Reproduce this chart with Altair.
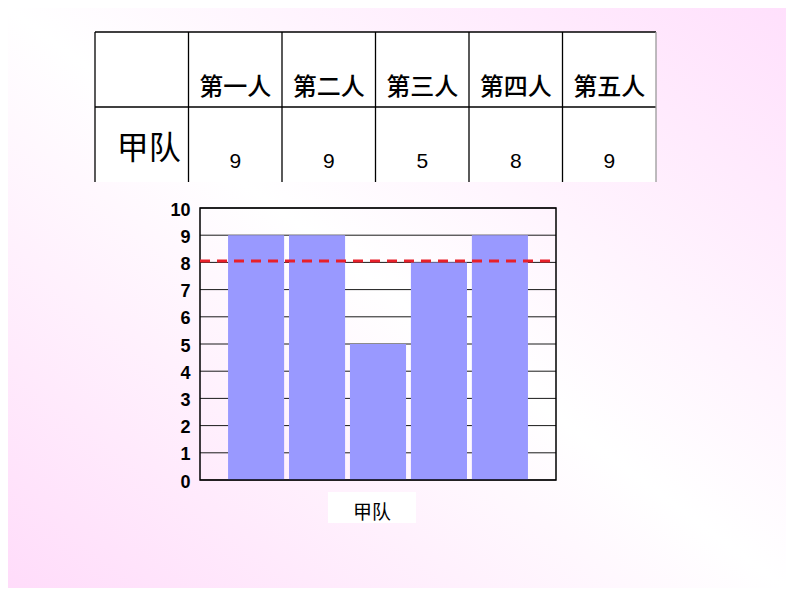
import altair as alt
import pandas as pd

# ---- data ----
persons = ["第一人", "第二人", "第三人", "第四人", "第五人"]
scores = [9, 9, 5, 8, 9]
team = "甲队"
y_ticks = [0, 1, 2, 3, 4, 5, 6, 7, 8, 9, 10]
table_rows = [0, 1]  # ruled rows of the table (top edge, header/data divider)

W, H = 778, 580
ncol = len(persons) + 1
nrow = 2

one = pd.DataFrame({"k": [0]})
bar_df = pd.DataFrame({"person": persons, "score": scores, "col": list(range(1, ncol))})
col_df = pd.DataFrame({"col": list(range(0, ncol + 1))})
row_df = pd.DataFrame({"row": table_rows})
tick_df = pd.DataFrame({"tick": y_ticks})

CJK = "Noto Sans CJK SC"
LAT = "Liberation Sans"

# ---- scales ----
tx = alt.Scale(domain=[0, ncol], range=[87, 648], nice=False, zero=False)
ty = alt.Scale(domain=[0, nrow], range=[24, 174], nice=False, zero=False)
fx = alt.Scale(domain=[0, 1], range=[192, 548], nice=False, zero=False)
fy = alt.Scale(domain=[y_ticks[0], y_ticks[-1]], range=[472, 200], nice=False, zero=True)
bx = alt.Scale(domain=persons, range=[192, 548], paddingInner=0.08, paddingOuter=0.46)


def TX(v):
    return alt.XDatum(v, type="quantitative", scale=tx, axis=None)


def TY(v):
    return alt.YDatum(v, type="quantitative", scale=ty, axis=None)


def FX(v):
    return alt.XDatum(v, type="quantitative", scale=fx, axis=None)


def FY(v):
    return alt.YDatum(v, type="quantitative", scale=fy, axis=None)


# ---- background gradient ----
grad = alt.LinearGradient(
    gradient="linear",
    stops=[
        alt.GradientStop(offset=0, color="#ffe0fc"),
        alt.GradientStop(offset=0.5, color="#ffffff"),
        alt.GradientStop(offset=1, color="#ffdcfa"),
    ],
    x1=1, y1=0, x2=0, y2=1,
)
bg = alt.Chart(one).mark_rect(fill=grad).encode(
    x=alt.value(0), x2=alt.value("width"), y=alt.value(0), y2=alt.value("height")
)

# ---- table ----
t_bg = alt.Chart(one).mark_rect(fill="white").encode(
    x=TX(0), x2=alt.X2Datum(ncol), y=TY(0), y2=alt.Y2Datum(nrow)
)
t_h = alt.Chart(row_df).mark_rule(color="black", strokeWidth=1.3).encode(
    y=alt.Y("row:Q", scale=ty, axis=None), x=TX(0), x2=alt.X2Datum(ncol)
)
t_v = alt.Chart(col_df).mark_rule(strokeWidth=1.3).encode(
    x=alt.X("col:Q", scale=tx, axis=None),
    y=TY(0), y2=alt.Y2Datum(nrow),
    color=alt.condition(f"datum.col == {ncol}", alt.value("#9a9a9a"), alt.value("black")),
)
t_head = alt.Chart(bar_df).transform_calculate(cx="datum.col + 0.5").mark_text(
    font=CJK, fontSize=24, fontWeight=500, color="black", baseline="middle", dy=18
).encode(x=alt.X("cx:Q", scale=tx, axis=None), y=TY(0.5), text="person:N")
t_team = alt.Chart(one).mark_text(
    text=team, font=CJK, fontSize=32, color="black", baseline="middle", dx=7, dy=4
).encode(x=TX(0.5), y=TY(1.5))
t_nums = alt.Chart(bar_df).transform_calculate(cx="datum.col + 0.5").mark_text(
    font=LAT, fontSize=21, color="black", baseline="middle", dy=17.5
).encode(x=alt.X("cx:Q", scale=tx, axis=None), y=TY(1.5), text="score:Q")

# ---- bar chart ----
grid = alt.Chart(tick_df).mark_rule(color="#1a1a1a", strokeWidth=1).encode(
    y=alt.Y("tick:Q", scale=fy, axis=None), x=FX(0), x2=alt.X2Datum(1)
)
bars = alt.Chart(bar_df).mark_bar(color="#9999ff").encode(
    x=alt.X("person:N", scale=bx, sort=persons, axis=None),
    y=alt.Y(
        "score:Q",
        scale=fy,
        axis=alt.Axis(
            orient="left", offset=-192, values=y_ticks, domain=False, ticks=False,
            grid=False, labelFont=LAT, labelFontSize=18, labelFontWeight="bold",
            labelColor="black", labelPadding=10, title=None, labelOffset=2, zindex=1,
        ),
    ),
)
frame = alt.Chart(one).mark_rect(fillOpacity=0, stroke="black", strokeWidth=1.5).encode(
    x=FX(0), x2=alt.X2Datum(1), y=FY(y_ticks[0]), y2=alt.Y2Datum(y_ticks[-1])
)
mean_line = alt.Chart(bar_df).mark_rule(
    color="#e8202a", strokeWidth=3, strokeDash=[10, 7], yOffset=-1.5
).encode(
    y=alt.Y("mean(score):Q", scale=fy, axis=None), x=FX(0), x2=alt.X2Datum(1)
)
box = alt.Chart(one).mark_point(
    shape="M-1,-0.352L1,-0.352L1,0.352L-1,0.352Z", size=88 * 88, filled=True,
    fill="white", opacity=1, strokeWidth=0, xOffset=-6, yOffset=27.5,
).encode(x=FX(0.5), y=FY(0))
xlabel = alt.Chart(one).mark_text(
    text=team, font=CJK, fontSize=19, color="black", baseline="middle", dx=-6, dy=33
).encode(x=FX(0.5), y=FY(0))

chart = (
    alt.layer(bg, t_bg, t_h, t_v, t_head, t_team, t_nums,
              grid, bars, frame, mean_line, box, xlabel)
    .resolve_scale(x="independent", y="independent")
    .properties(width=W, height=H, autosize=alt.AutoSizeParams(type="none"), padding=0)
    .configure_view(stroke=None)
)

chart.save("out.html", embed_options={"renderer": "svg", "actions": False})
